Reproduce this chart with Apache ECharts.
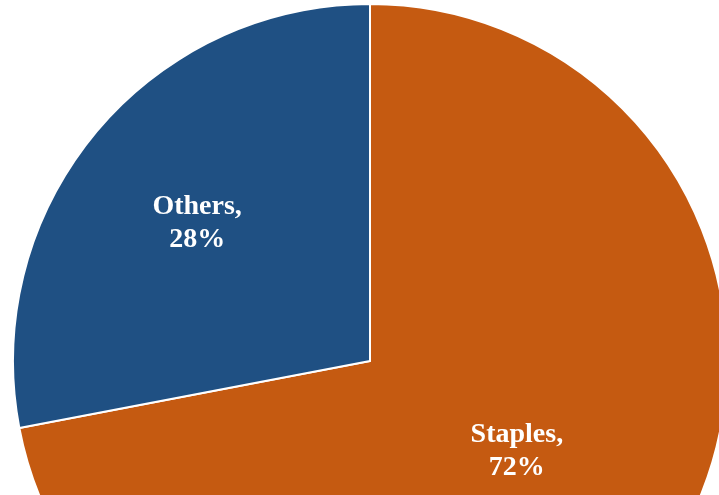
<!DOCTYPE html>
<html>
<head>
<meta charset="utf-8">
<script src="https://cdn.jsdelivr.net/npm/echarts@6/dist/echarts.min.js"></script>
<style>
  html, body { margin: 0; padding: 0; background: #ffffff; }
  #chart { width: 719px; height: 495px; }
</style>
</head>
<body>
<div id="chart"></div>
<script>
// Share of items: staples vs. everything else (percent)
const categories = ['Staples', 'Others'];
const shares = [72, 28];
const colors = ['#c55a11', '#1f5083'];

// Per-slice nudges for the inside labels
const labelShift = [[7, -25], [-33, -22]];

const chart = echarts.init(document.getElementById('chart'), null, { renderer: 'canvas' });

chart.setOption({
  backgroundColor: '#ffffff',
  animation: false,
  series: [{
    type: 'pie',
    center: [370, 361],
    radius: 357,
    startAngle: 90,
    clockwise: true,
    data: categories.map((name, i) => ({
      name: name,
      value: shares[i],
      itemStyle: { color: colors[i] }
    })),
    itemStyle: { borderColor: '#ffffff', borderWidth: 2 },
    label: {
      show: true,
      position: 'inside',
      formatter: p => p.name + ',\n' + p.value + '%',
      color: '#ffffff',
      fontFamily: '"Liberation Serif", "Times New Roman", serif',
      fontWeight: 'bold',
      fontSize: 28,
      lineHeight: 33,
      align: 'center'
    },
    labelLine: { show: false },
    labelLayout: p => ({ dx: labelShift[p.dataIndex][0], dy: labelShift[p.dataIndex][1] }),
    emphasis: { disabled: true }
  }]
});
</script>
</body>
</html>
